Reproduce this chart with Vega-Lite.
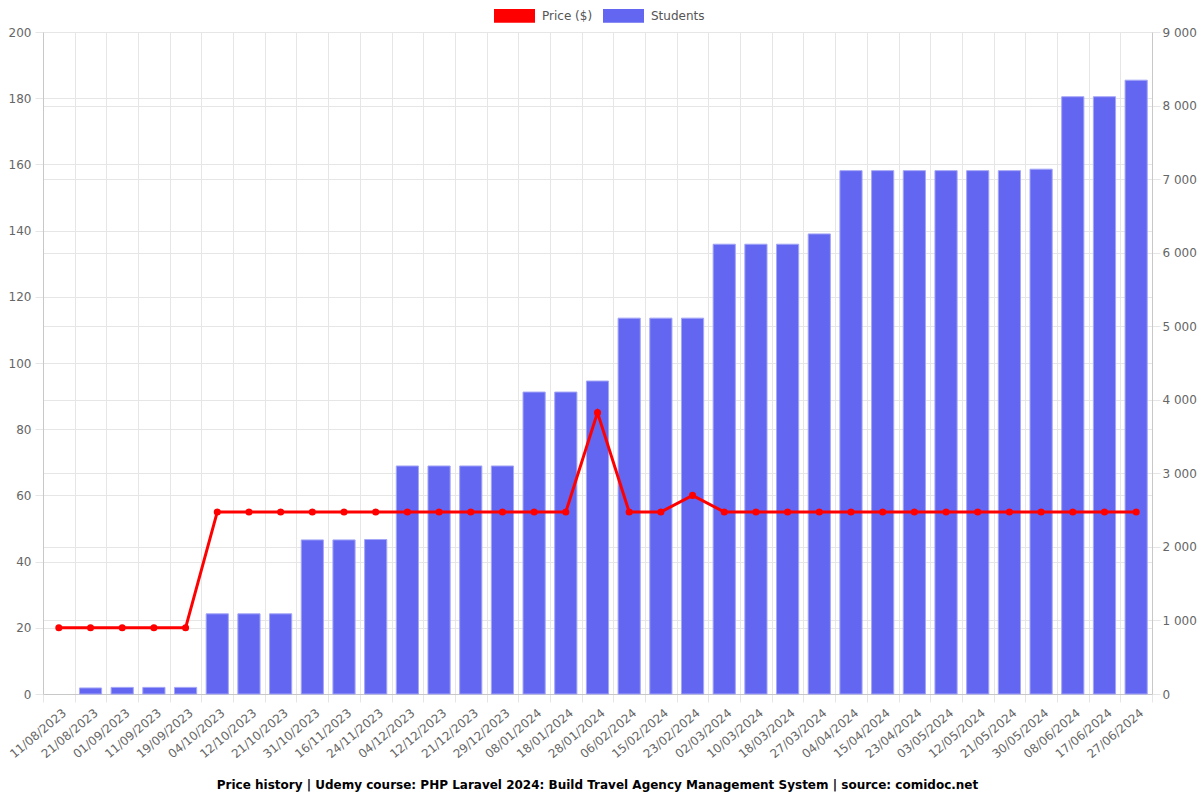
{
  "$schema": "https://vega.github.io/schema/vega-lite/v6.json",
  "width": 1109,
  "height": 662,
  "autosize": "none",
  "padding": {"left": 43, "top": 32, "right": 48, "bottom": 106},
  "background": "white",
  "config": {
    "font": "DejaVu Sans",
    "view": {"stroke": null},
    "axis": {"labelFont": "DejaVu Sans", "labelFontSize": 12, "labelColor": "#666", "gridColor": "#e6e6e6", "domainColor": "#c8c8c8", "tickColor": "#e6e6e6", "tickSize": 8}
  },
  "title": {"text": "Price history | Udemy course: PHP Laravel 2024: Build Travel Agency Management System | source: comidoc.net", "orient": "bottom", "anchor": "middle", "fontSize": 12, "font": "DejaVu Sans", "fontWeight": "bold", "color": "#000", "offset": 20},
  "data": {"values": [
    {"date": "11/08/2023", "price": 20, "students": null},
    {"date": "21/08/2023", "price": 20, "students": 82},
    {"date": "01/09/2023", "price": 20, "students": 90},
    {"date": "11/09/2023", "price": 20, "students": 90},
    {"date": "19/09/2023", "price": 20, "students": 90},
    {"date": "04/10/2023", "price": 55, "students": 1090},
    {"date": "12/10/2023", "price": 55, "students": 1090},
    {"date": "21/10/2023", "price": 55, "students": 1090},
    {"date": "31/10/2023", "price": 55, "students": 2095},
    {"date": "16/11/2023", "price": 55, "students": 2095},
    {"date": "24/11/2023", "price": 55, "students": 2100},
    {"date": "04/12/2023", "price": 55, "students": 3100},
    {"date": "12/12/2023", "price": 55, "students": 3100},
    {"date": "21/12/2023", "price": 55, "students": 3100},
    {"date": "29/12/2023", "price": 55, "students": 3100},
    {"date": "08/01/2024", "price": 55, "students": 4105},
    {"date": "18/01/2024", "price": 55, "students": 4105},
    {"date": "28/01/2024", "price": 85, "students": 4255},
    {"date": "06/02/2024", "price": 55, "students": 5110},
    {"date": "15/02/2024", "price": 55, "students": 5110},
    {"date": "23/02/2024", "price": 60, "students": 5110},
    {"date": "02/03/2024", "price": 55, "students": 6115},
    {"date": "10/03/2024", "price": 55, "students": 6115},
    {"date": "18/03/2024", "price": 55, "students": 6115},
    {"date": "27/03/2024", "price": 55, "students": 6255},
    {"date": "04/04/2024", "price": 55, "students": 7115},
    {"date": "15/04/2024", "price": 55, "students": 7115},
    {"date": "23/04/2024", "price": 55, "students": 7115},
    {"date": "03/05/2024", "price": 55, "students": 7115},
    {"date": "12/05/2024", "price": 55, "students": 7115},
    {"date": "21/05/2024", "price": 55, "students": 7115},
    {"date": "30/05/2024", "price": 55, "students": 7135},
    {"date": "08/06/2024", "price": 55, "students": 8120},
    {"date": "17/06/2024", "price": 55, "students": 8120},
    {"date": "27/06/2024", "price": 55, "students": 8345}
  ]},
  "encoding": {
    "x": {"field": "date", "type": "nominal", "sort": null, "title": null,
      "scale": {"paddingInner": 0, "paddingOuter": 0, "domain": ["11/08/2023","21/08/2023","01/09/2023","11/09/2023","19/09/2023","04/10/2023","12/10/2023","21/10/2023","31/10/2023","16/11/2023","24/11/2023","04/12/2023","12/12/2023","21/12/2023","29/12/2023","08/01/2024","18/01/2024","28/01/2024","06/02/2024","15/02/2024","23/02/2024","02/03/2024","10/03/2024","18/03/2024","27/03/2024","04/04/2024","15/04/2024","23/04/2024","03/05/2024","12/05/2024","21/05/2024","30/05/2024","08/06/2024","17/06/2024","27/06/2024"]},
      "axis": {"labelAngle": -40, "labelAlign": "right", "labelBaseline": "top", "tickBand": "extent", "grid": true, "domainColor": "#c8c8c8", "labelPadding": 5, "labelOffset": 2}}
  },
  "layer": [
    {
      "mark": {"type": "bar", "width": {"band": 0.7}, "fill": "#6366f1", "stroke": "#a4a6f6", "strokeWidth": 1},
      "encoding": {
        "y": {"field": "students", "type": "quantitative", "title": null,
          "scale": {"domain": [0, 9000], "nice": false},
          "axis": {"orient": "right", "values": [0,1000,2000,3000,4000,5000,6000,7000,8000,9000], "labelExpr": "replace(format(datum.value, ','), ',', ' ')", "grid": true, "labelPadding": 2}},
        "color": {"datum": "Students", "type": "nominal",
          "scale": {"domain": ["Price ($)", "Students"], "range": ["#ff0000", "#6366f1"]},
          "legend": {"orient": "none", "direction": "horizontal", "legendX": 451, "legendY": -37, "title": null,
            "symbolType": "M-1,-0.33H1V0.33H-1Z", "symbolSize": 1681, "symbolStrokeWidth": 0,
            "labelFontSize": 12, "labelColor": "#555", "labelFont": "DejaVu Sans", "columnPadding": 10, "labelOffset": 7,
            "encode": {"symbols": {"update": {"fill": {"scale": "color", "field": "value"}, "stroke": {"value": "transparent"}, "strokeWidth": {"value": 0}, "opacity": {"value": 1}}}}}}
      }
    },
    {
      "mark": {"type": "line", "color": "#ff0000", "strokeWidth": 3, "point": {"filled": true, "size": 50, "color": "#ff0000"}},
      "encoding": {
        "y": {"field": "price", "type": "quantitative", "title": null,
          "scale": {"domain": [0, 200], "nice": false},
          "axis": {"orient": "left", "values": [0,20,40,60,80,100,120,140,160,180,200], "grid": true, "labelPadding": 4}},
        "color": {"datum": "Price ($)", "type": "nominal"}
      }
    }
  ],
  "resolve": {"scale": {"y": "independent"}}
}
